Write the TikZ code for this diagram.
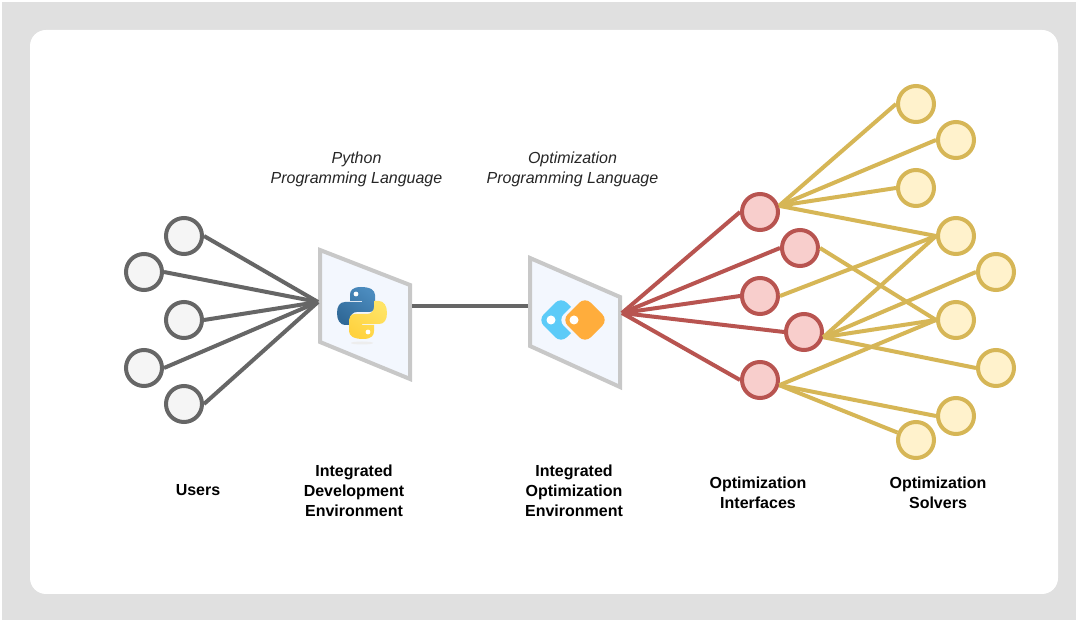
\documentclass[tikz,border=0pt]{standalone}
\usepackage{fontspec}
\setmainfont{Liberation Sans}
\definecolor{frameback}{HTML}{E0E0E0}
\definecolor{userline}{HTML}{666666}
\definecolor{userfill}{HTML}{F5F5F5}
\definecolor{ifaceline}{HTML}{B85450}
\definecolor{ifacefill}{HTML}{F8CECC}
\definecolor{solverline}{HTML}{D6B656}
\definecolor{solverfill}{HTML}{FFF2CC}
\definecolor{panelline}{HTML}{C8C8C8}
\definecolor{panelfill}{HTML}{F3F7FE}
\definecolor{pybluea}{HTML}{4B8BBE}
\definecolor{pyblueb}{HTML}{306998}
\definecolor{pyyellowa}{HTML}{FFE466}
\definecolor{pyyellowb}{HTML}{FFD23F}
\definecolor{logoblue}{HTML}{5CCBF8}
\definecolor{logoorange}{HTML}{FFAD3C}
\tikzset{
    user/.style={circle, draw=userline, fill=userfill, line width=3pt, minimum size=27pt, inner sep=0pt},
    iface/.style={circle, draw=ifaceline, fill=ifacefill, line width=3pt, minimum size=27pt, inner sep=0pt},
    solver/.style={circle, draw=solverline, fill=solverfill, line width=3pt, minimum size=27pt, inner sep=0pt},
    panel/.style={draw=panelline, fill=panelfill, line width=3pt, line join=miter},
    userlink/.style={draw=userline, line width=3pt},
    ifacelink/.style={draw=ifaceline, line width=3pt},
    solverlink/.style={draw=solverline, line width=3pt},
    caption/.style={font=\bfseries\fontsize{12}{15}\selectfont, align=center, text=black},
    remark/.style={font=\itshape\fontsize{12}{15}\selectfont, align=center, text=black!85}
}
\newcommand{\snakepath}{(361,287) .. controls (352,287) and (350,291) .. (350,295) -- (350,301) -- (362,301) -- (362,302) -- (345,302) .. controls (340,302) and (337,306) .. (337,313) .. controls (337,320) and (340,325) .. (345,325) -- (350,325) -- (350,319) .. controls (350,315) and (353,312) .. (357,312) -- (369,312) .. controls (373,312) and (375,309) .. (375,306) -- (375,295) .. controls (375,290) and (370,287) .. (361,287) -- cycle}
\begin{document}
\begin{tikzpicture}[x=0.75pt, y=-0.75pt]
    % Frame
    \fill[white] (0,0) rectangle (1076,620);
    \fill[frameback] (2,2) rectangle (1076,620);
    \fill[white, rounded corners=12pt] (30,30) rectangle (1058,594);

    % Panels
    \draw[panel] (320,250) -- (410,285) -- (410,379) -- (320,342) -- cycle;
    \draw[panel] (530,258) -- (620,297) -- (620,387) -- (530,346) -- cycle;
    \coordinate (idein) at (318,302);
    \coordinate (ideout) at (412,306);
    \coordinate (ioein) at (528,306);
    \coordinate (ioeout) at (622,313);

    % Python logo
    \fill[black!7] (362,343) ellipse (11 and 1.5);
    \shade[top color=pybluea, bottom color=pyblueb, shading angle=-35] \snakepath;
    \fill[white] (356,294) circle (2.4);
    \begin{scope}[rotate around={180:(362,313)}]
        \shade[top color=pyyellowa, bottom color=pyyellowb, shading angle=-35] \snakepath;
        \fill[white] (356,294) circle (2.4);
    \end{scope}

    % Optimization logo
    \fill[logoblue, rounded corners=6pt] (561,297) -- (584,320) -- (561,343) -- (538,320) -- cycle;
    \fill[panelfill, rounded corners=6pt] (585,293) -- (612,320) -- (585,347) -- (558,320) -- cycle;
    \fill[logoorange, rounded corners=6pt] (585,297) -- (608,320) -- (585,343) -- (562,320) -- cycle;
    \fill[white] (551,320) circle (4.5);
    \fill[white] (574,320) circle (4.5);

    % Links
    \draw[userlink] (ideout) -- (ioein);

    \node[user] (u1) at (184,236) {};
    \node[user] (u2) at (144,272) {};
    \node[user] (u3) at (184,320) {};
    \node[user] (u4) at (144,368) {};
    \node[user] (u5) at (184,404) {};
    \foreach \n in {u1,u2,u3,u4,u5}
        \draw[userlink] (\n.east) -- (idein);

    \node[iface] (r1) at (760,212) {};
    \node[iface] (r2) at (800,248) {};
    \node[iface] (r3) at (760,296) {};
    \node[iface] (r4) at (804,332) {};
    \node[iface] (r5) at (760,380) {};
    \foreach \n in {r1,r2,r3,r4,r5}
        \draw[ifacelink] (\n.west) -- (ioeout);

    \node[solver] (s1) at (916,104) {};
    \node[solver] (s2) at (956,140) {};
    \node[solver] (s3) at (916,188) {};
    \node[solver] (s4) at (956,236) {};
    \node[solver] (s5) at (996,272) {};
    \node[solver] (s6) at (956,320) {};
    \node[solver] (s7) at (996,368) {};
    \node[solver] (s8) at (956,416) {};
    \node[solver] (s9) at (916,440) {};

    \foreach \n in {s1,s2,s3,s4}
        \draw[solverlink] (r1.18) -- (\n.west);
    \draw[solverlink] (r2.east) -- (s6.west);
    \draw[solverlink] (r3.east) -- (s4.west);
    \foreach \n in {s4,s5,s6,s7}
        \draw[solverlink] (r4.-15) -- (\n.west);
    \foreach \n in {s6,s8}
        \draw[solverlink] (r5.-15) -- (\n.west);
    \draw[solverlink] (r5.-15) -- (s9);

    % Labels
    \node[remark] (pylabel) at (356.5,169) {Python\\Programming Language};
    \node[remark] (optlabel) at (572.5,169) {Optimization\\Programming Language};
    \node[caption] (userslabel) at (198,490.5) {Users};
    \node[caption] (idelabel) at (354,490.5) {Integrated\\Development\\Environment};
    \node[caption] (ioelabel) at (574,490.5) {Integrated\\Optimization\\Environment};
    \node[caption] (ifacelabel) at (758,492.5) {Optimization\\Interfaces};
    \node[caption] (solverlabel) at (938,492.5) {Optimization\\Solvers};
\end{tikzpicture}
\end{document}
